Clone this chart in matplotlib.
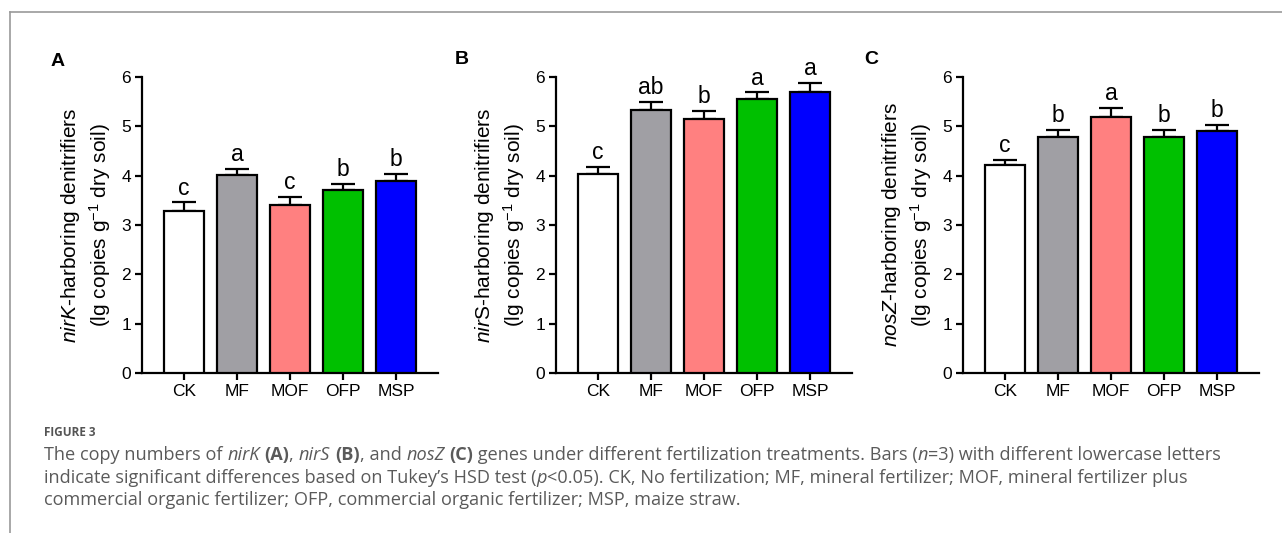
import numpy as np
import matplotlib
matplotlib.use("Agg")
import matplotlib.pyplot as plt
from matplotlib.lines import Line2D

plt.rcParams['font.family'] = ['Liberation Sans', 'DejaVu Sans']
plt.rcParams['mathtext.fontset'] = 'custom'
plt.rcParams['mathtext.rm'] = 'Liberation Sans'
plt.rcParams['mathtext.it'] = 'Liberation Sans:italic'
plt.rcParams['mathtext.bf'] = 'Liberation Sans:bold'

treatments = ["CK", "MF", "MOF", "OFP", "MSP"]
bar_colors = ["#FFFFFF", "#A09FA4", "#FF8080", "#00C000", "#0000FF"]

nirk_mean = [3.29, 4.02, 3.41, 3.70, 3.89]
nirk_err = [0.17, 0.12, 0.16, 0.14, 0.14]
nirk_letters = ["c", "a", "c", "b", "b"]

nirs_mean = [4.03, 5.34, 5.14, 5.55, 5.69]
nirs_err = [0.15, 0.16, 0.17, 0.14, 0.19]
nirs_letters = ["c", "ab", "b", "a", "a"]

nosz_mean = [4.22, 4.78, 5.19, 4.78, 4.90]
nosz_err = [0.10, 0.15, 0.18, 0.15, 0.13]
nosz_letters = ["c", "b", "a", "b", "b"]

panels = [
    ("A", nirk_mean, nirk_err, nirk_letters,
     "$\\mathit{nirK}$-harboring denitrifiers\n(lg copies g$^{-1}$ dry soil)"),
    ("B", nirs_mean, nirs_err, nirs_letters,
     "$\\mathit{nir}$S-harboring denitrifiers\n(lg copies g$^{-1}$ dry soil)"),
    ("C", nosz_mean, nosz_err, nosz_letters,
     "$\\mathit{nosZ}$-harboring denitrifiers\n(lg copies g$^{-1}$ dry soil)"),
]

W, H = 1282, 533
fig = plt.figure(figsize=(W / 100, H / 100), dpi=100)

axis_left = [142, 556, 963]
label_pos = [(58, 62), (462, 60), (871, 60)]

for i, (tag, mean, err, letters, ylab) in enumerate(panels):
    ax = fig.add_axes([axis_left[i] / W, (H - 373) / H, 296 / W, 296 / H])
    x = np.arange(len(treatments))
    ax.errorbar(x, mean, yerr=[np.zeros(len(err)), err], fmt="none", ecolor="black",
                elinewidth=1.6, capsize=8.5, capthick=1.6, zorder=2)
    ax.bar(x, mean, width=0.75, color=bar_colors, edgecolor="black", linewidth=1.6, zorder=3)
    for xi, m, e, s in zip(x, mean, err, letters):
        ax.annotate(s, (xi, m + e), xytext=(0, 2), textcoords="offset points",
                    ha="center", va="bottom", fontsize=16.5)
    ax.set_xlim(-0.79, 4.79)
    ax.set_ylim(0, 6)
    ax.set_yticks(range(7))
    ax.set_xticks(x)
    ax.set_xticklabels(treatments)
    ax.spines["top"].set_visible(False)
    ax.spines["right"].set_visible(False)
    ax.spines["left"].set_linewidth(1.6)
    ax.spines["bottom"].set_linewidth(1.6)
    ax.tick_params(width=1.6, length=5, labelsize=12.5, pad=3)
    ax.set_ylabel(ylab, fontsize=15, linespacing=1.25, labelpad=6)
    fig.text(label_pos[i][0] / W, 1 - label_pos[i][1] / H, tag, fontsize=14,
             fontweight="bold", ha="center", va="center")

# frame lines of the figure box
fig.add_artist(Line2D([10 / W, 10 / W], [0, 1 - 12 / H], color="#9a9a9a", lw=1.2))
fig.add_artist(Line2D([10 / W, 1], [1 - 12 / H, 1 - 12 / H], color="#9a9a9a", lw=1.2))

cap_font = "Open Sans"
cap_color = "#5a5a5a"
fig.text(44 / W, 1 - 432 / H, "FIGURE 3", fontsize=8.5, color="#555555",
         family=cap_font, weight="bold", va="center")

caption = [
    [("The copy numbers of ", "n"), ("nirK", "i"), (" ", "n"), ("(A)", "b"), (", ", "n"),
     ("nirS", "i"), (" ", "n"), ("(B)", "b"), (", and ", "n"), ("nosZ", "i"), (" ", "n"),
     ("(C)", "b"), (" genes under different fertilization treatments. Bars (", "n"),
     ("n", "i"), ("=3) with different lowercase letters", "n")],
    [("indicate significant differences based on Tukey\u2019s HSD test (", "n"), ("p", "i"),
     ("<0.05). CK, No fertilization; MF, mineral fertilizer; MOF, mineral fertilizer plus", "n")],
    [("commercial organic fertilizer; OFP, commercial organic fertilizer; MSP, maize straw.", "n")],
]
line_y = [455, 478, 500]

renderer = fig.canvas.get_renderer()
for parts, yy in zip(caption, line_y):
    xx = 44
    for txt, st in parts:
        t = fig.text(xx / W, 1 - yy / H, txt, fontsize=13.1, color=cap_color, family=cap_font,
                     style="italic" if st == "i" else "normal",
                     weight="bold" if st == "b" else "normal", va="center")
        xx += t.get_window_extent(renderer).width

fig.savefig("out.png", dpi=100)
